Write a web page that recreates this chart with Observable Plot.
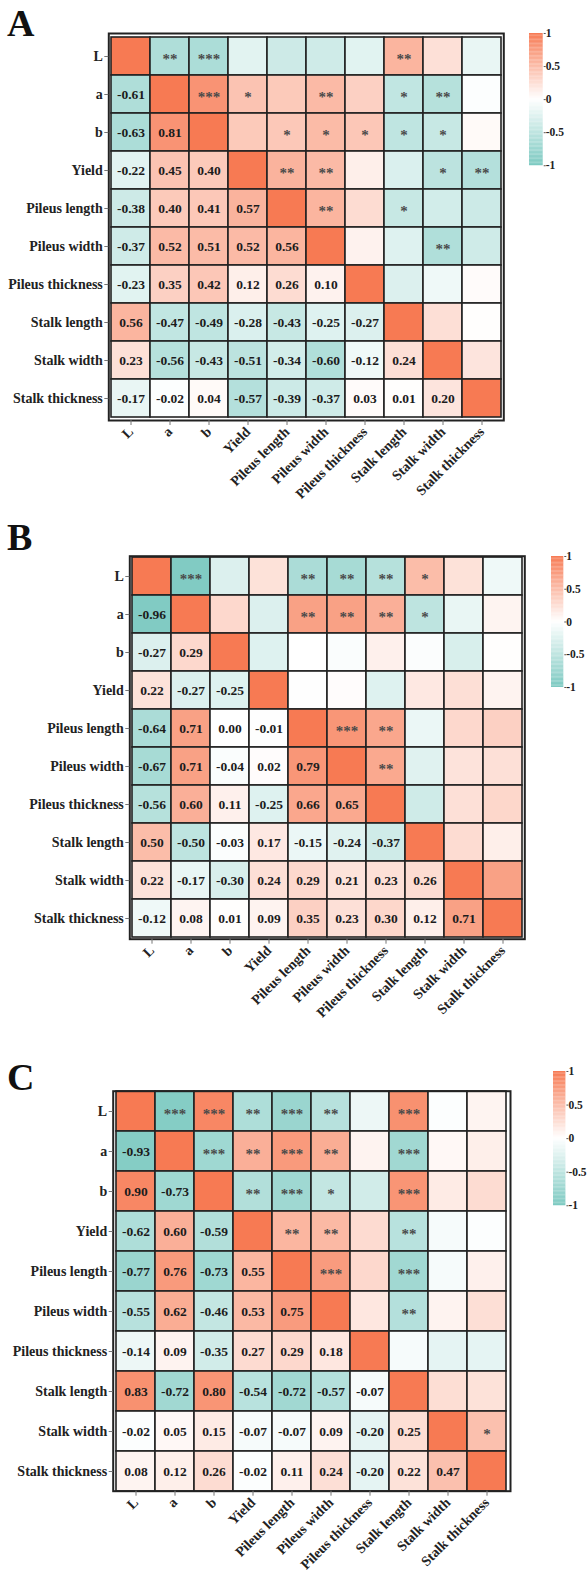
<!DOCTYPE html>
<html>
<head>
<meta charset="utf-8">
<script src="https://cdn.jsdelivr.net/npm/d3@7"></script>
<script src="https://cdn.jsdelivr.net/npm/@observablehq/plot@0.6"></script>
<style>
  html, body { margin: 0; padding: 0; background: #fff; }
  #root { position: relative; width: 588px; height: 1575px; background: #fff; overflow: hidden; }
  .abs { position: absolute; }
  .letter { position: absolute; font-family: "Liberation Serif", serif; font-weight: bold; font-size: 38px; line-height: 1; color: #111; }
</style>
</head>
<body>
<div id="root"></div>
<script>
// ---------- data ----------
const vars = ["L", "a", "b", "Yield", "Pileus length", "Pileus width", "Pileus thickness", "Stalk length", "Stalk width", "Stalk thickness"];

// lower triangle correlation values (row i, columns 0..i-1)
const corrA = [
  [],
  [-0.61],
  [-0.63, 0.81],
  [-0.22, 0.45, 0.40],
  [-0.38, 0.40, 0.41, 0.57],
  [-0.37, 0.52, 0.51, 0.52, 0.56],
  [-0.23, 0.35, 0.42, 0.12, 0.26, 0.10],
  [0.56, -0.47, -0.49, -0.28, -0.43, -0.25, -0.27],
  [0.23, -0.56, -0.43, -0.51, -0.34, -0.60, -0.12, 0.24],
  [-0.17, -0.02, 0.04, -0.57, -0.39, -0.37, 0.03, 0.01, 0.20]
];
const corrB = [
  [],
  [-0.96],
  [-0.27, 0.29],
  [0.22, -0.27, -0.25],
  [-0.64, 0.71, 0.00, -0.01],
  [-0.67, 0.71, -0.04, 0.02, 0.79],
  [-0.56, 0.60, 0.11, -0.25, 0.66, 0.65],
  [0.50, -0.50, -0.03, 0.17, -0.15, -0.24, -0.37],
  [0.22, -0.17, -0.30, 0.24, 0.29, 0.21, 0.23, 0.26],
  [-0.12, 0.08, 0.01, 0.09, 0.35, 0.23, 0.30, 0.12, 0.71]
];
const corrC = [
  [],
  [-0.93],
  [0.90, -0.73],
  [-0.62, 0.60, -0.59],
  [-0.77, 0.76, -0.73, 0.55],
  [-0.55, 0.62, -0.46, 0.53, 0.75],
  [-0.14, 0.09, -0.35, 0.27, 0.29, 0.18],
  [0.83, -0.72, 0.80, -0.54, -0.72, -0.57, -0.07],
  [-0.02, 0.05, 0.15, -0.07, -0.07, 0.09, -0.20, 0.25],
  [0.08, 0.12, 0.26, -0.02, 0.11, 0.24, -0.20, 0.22, 0.47]
];

// significance stars, upper triangle (row i, columns i+1..9)
const starsA = [
  ["**", "***", "", "", "", "", "**", "", ""],
  ["***", "*", "", "**", "", "*", "**", ""],
  ["", "*", "*", "*", "*", "*", ""],
  ["**", "**", "", "", "*", "**"],
  ["**", "", "*", "", ""],
  ["", "", "**", ""],
  ["", "", ""],
  ["", ""],
  [""]
];
const starsB = [
  ["***", "", "", "**", "**", "**", "*", "", ""],
  ["", "", "**", "**", "**", "*", "", ""],
  ["", "", "", "", "", "", ""],
  ["", "", "", "", "", ""],
  ["***", "**", "", "", ""],
  ["**", "", "", ""],
  ["", "", ""],
  ["", ""],
  [""]
];
const starsC = [
  ["***", "***", "**", "***", "**", "", "***", "", ""],
  ["***", "**", "***", "**", "", "***", "", ""],
  ["**", "***", "*", "", "***", "", ""],
  ["**", "**", "", "**", "", ""],
  ["***", "", "***", "", ""],
  ["", "**", "", ""],
  ["", "", ""],
  ["", ""],
  ["*"]
];

const colorTicks = [-1, -0.5, 0, 0.5, 1];
const panelLetters = ["A", "B", "C"];

// ---------- drawing ----------
const TEAL = "#7cc9c1", CORAL = "#f77a53";
const colorScale = {type: "linear", domain: [-1, 0, 1], range: [TEAL, "#ffffff", CORAL], interpolate: "rgb"};
const FONT = "'Liberation Serif', 'Times New Roman', serif";

function buildCells(corr) {
  const out = [];
  vars.forEach((rv, i) => vars.forEach((cv, j) => {
    const v = i === j ? 1 : (i > j ? corr[i][j] : corr[j][i]);
    out.push({row: rv, col: cv, v, i, j});
  }));
  return out;
}

function panel(corr, stars, L) {
  const cells = buildCells(corr);
  const lower = cells.filter(d => d.i > d.j);
  const upper = cells.filter(d => d.i < d.j).map(d => ({...d, s: stars[d.i][d.j - d.i - 1]})).filter(d => d.s);
  return Plot.plot({
    width: 588,
    height: L.height,
    marginLeft: L.left,
    marginRight: 588 - L.right,
    marginTop: L.top,
    marginBottom: L.height - L.top - L.gridH,
    style: {fontFamily: FONT, fontWeight: "bold", fontSize: "14px", color: "#222", background: "transparent"},
    x: {domain: vars, padding: 0, label: null},
    y: {domain: vars, padding: 0, label: null},
    color: colorScale,
    marks: [
      Plot.cell(cells, {x: "col", y: "row", fill: "v", stroke: "#222", strokeWidth: 1.6}),
      Plot.text(lower, {x: "col", y: "row", text: d => d.v.toFixed(2), fontSize: 13.5, fontWeight: "bold", fill: "#1c1c1c", fontFamily: FONT}),
      Plot.text(upper, {x: "col", y: "row", text: "s", fontSize: 15, fontWeight: "bold", fill: "#4a4a4a", fontFamily: FONT, dy: 3}),
      Plot.frame({stroke: "#222", strokeWidth: 2}),
      Plot.axisY({tickSize: 4, tickPadding: 2, fontSize: 14, stroke: "#777"}),
      Plot.axisX({tickRotate: -45, tickSize: 5, tickPadding: 4, fontSize: 14, stroke: "#777"})
    ]
  });
}

function colorbar(C) {
  const steps = d3.range(-1, 1, 0.02);
  return Plot.plot({
    width: C.w + 36,
    height: C.h + 20,
    marginLeft: 0,
    marginRight: 36,
    marginTop: 10,
    marginBottom: 10,
    style: {fontFamily: FONT, fontWeight: "bold", fontSize: "11.5px", color: "#222", background: "transparent"},
    x: {domain: [0, 1], axis: null},
    y: {domain: [-1, 1], axis: null},
    color: colorScale,
    marks: [
      Plot.rect(steps, {x1: 0, x2: 1, y1: d => d, y2: d => Math.min(1, d + 0.022), fill: d => d + 0.01}),
      Plot.axisY({anchor: "right", ticks: colorTicks, tickFormat: d => String(d), tickSize: 2, tickPadding: 0.5, fontSize: 11.5, stroke: "#555"})
    ]
  });
}

const root = document.getElementById("root");
const layouts = [
  {corr: corrA, stars: starsA, svgTop: 0, height: 520, top: 33, gridH: 387, left: 108.3, right: 503.3,
   cb: {x: 529, y: 32.7, w: 13.7, h: 132.3}, letter: {x: 7, y: 4}},
  {corr: corrB, stars: starsB, svgTop: 520, height: 512, top: 35.7, gridH: 383, left: 129.3, right: 524.3,
   cb: {x: 551, y: 555.7, w: 12.3, h: 131}, letter: {x: 7, y: 518}},
  {corr: corrC, stars: starsC, svgTop: 1050, height: 525, top: 40.7, gridH: 400, left: 112.7, right: 510,
   cb: {x: 553.3, y: 1070.7, w: 12.4, h: 134.3}, letter: {x: 7, y: 1058}}
];

layouts.forEach((L, k) => {
  const svg = panel(L.corr, L.stars, L);
  svg.classList.add("abs");
  svg.style.left = "0px";
  svg.style.top = L.svgTop + "px";
  root.appendChild(svg);

  const cb = colorbar(L.cb);
  cb.classList.add("abs");
  cb.style.left = L.cb.x + "px";
  cb.style.top = (L.cb.y - 10) + "px";
  root.appendChild(cb);

  const letter = document.createElement("div");
  letter.className = "letter";
  letter.textContent = panelLetters[k];
  letter.style.left = L.letter.x + "px";
  letter.style.top = L.letter.y + "px";
  root.appendChild(letter);
});
</script>
</body>
</html>
